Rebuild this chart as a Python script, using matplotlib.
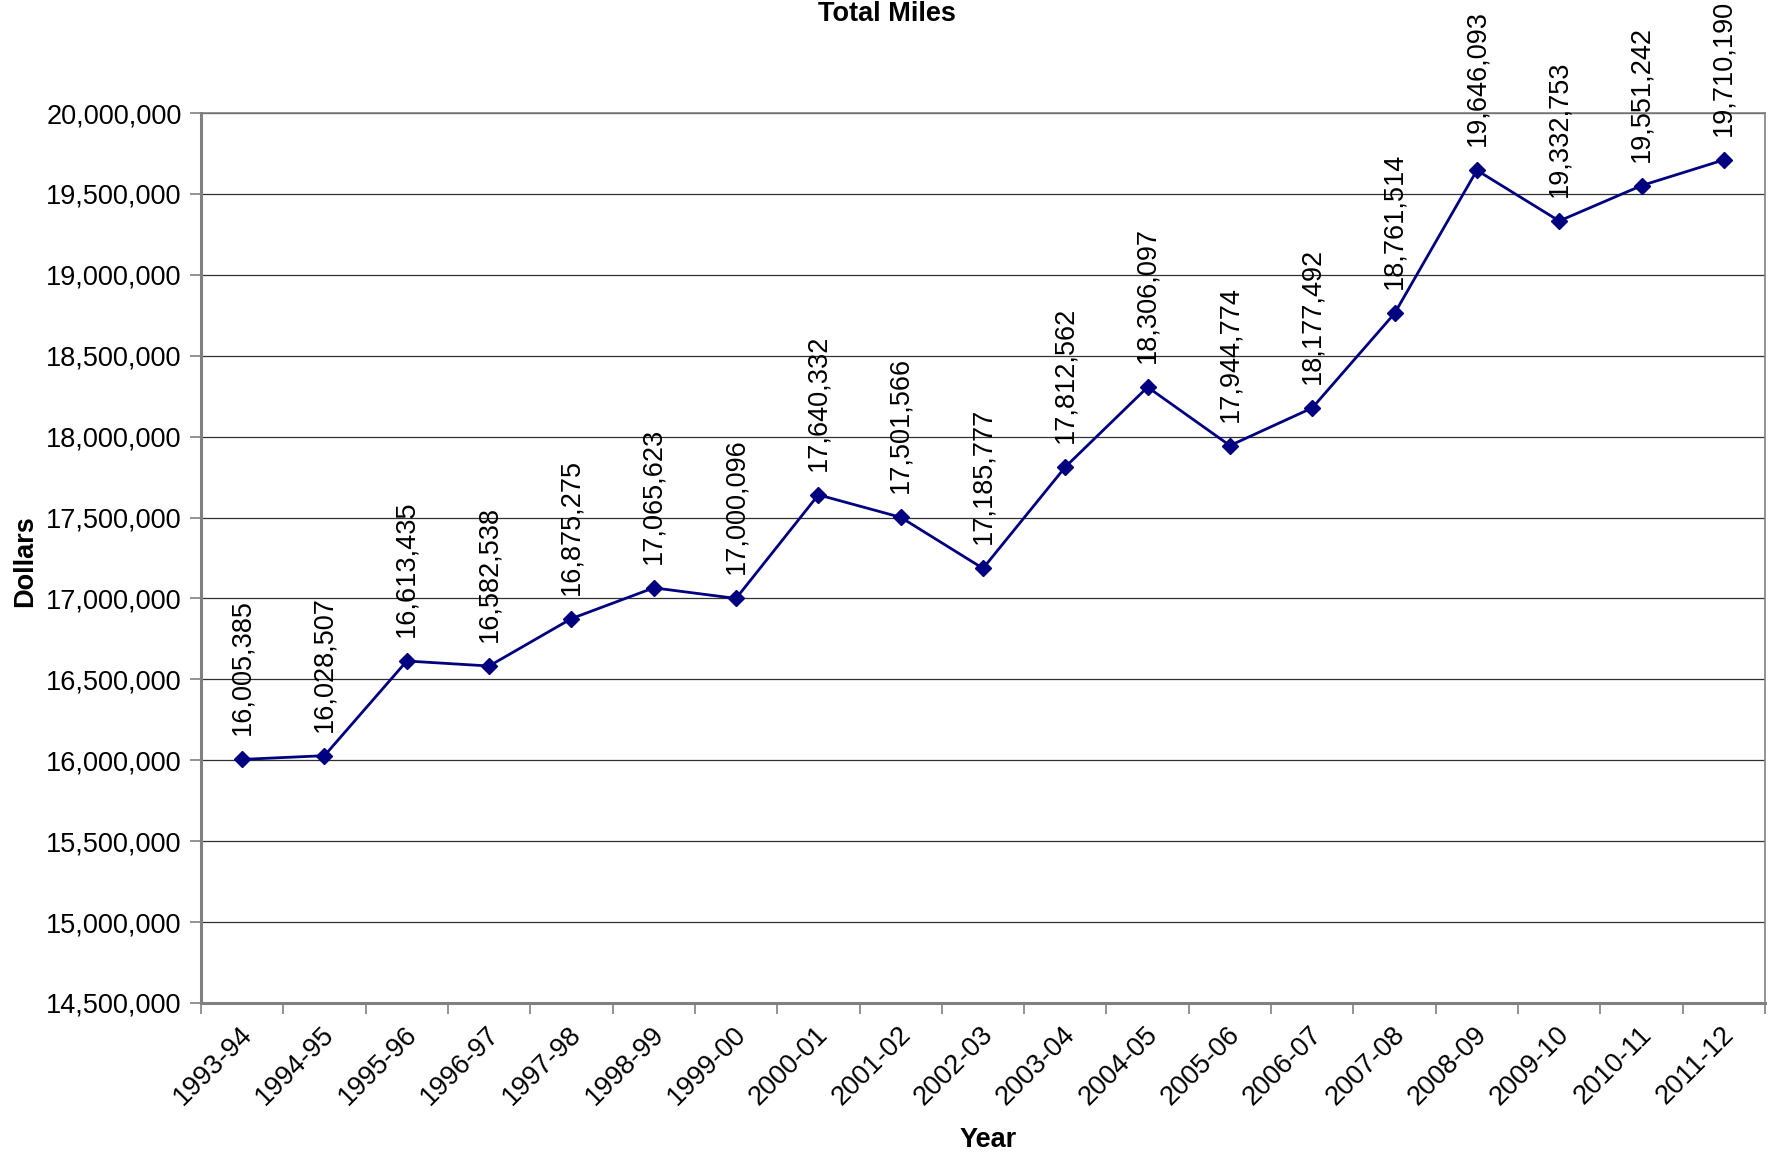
import matplotlib
matplotlib.use("Agg")
import matplotlib.pyplot as plt
import matplotlib.transforms as mtransforms
from matplotlib.ticker import FuncFormatter, MultipleLocator, FixedLocator

plt.rcParams['font.family'] = ['Liberation Sans', 'DejaVu Sans']

# data
years = ["1993-94", "1994-95", "1995-96", "1996-97", "1997-98", "1998-99",
         "1999-00", "2000-01", "2001-02", "2002-03", "2003-04", "2004-05",
         "2005-06", "2006-07", "2007-08", "2008-09", "2009-10", "2010-11",
         "2011-12"]
miles = [16005385, 16028507, 16613435, 16582538, 16875275, 17065623,
         17000096, 17640332, 17501566, 17185777, 17812562, 18306097,
         17944774, 18177492, 18761514, 19646093, 19332753, 19551242,
         19710190]

FS = 19.5

fig = plt.figure(figsize=(17.71, 11.59), dpi=100)
ax = fig.add_axes([0.1135, 0.1346, 0.8831, 0.7679])

x = list(range(len(years)))
ax.plot(x, miles, color="#000080", lw=2.0, marker="D", markersize=8.5,
        markerfacecolor="#000080", markeredgecolor="#000080", zorder=3)

for xi, v in zip(x, miles):
    ax.annotate(f"{v:,}", (xi, v), xytext=(0, 24), textcoords="offset pixels",
                rotation=90, ha="center", va="bottom", fontsize=FS,
                annotation_clip=False)

ax.set_xlim(-0.5, len(years) - 0.5)
ax.set_ylim(14500000, 20000000)
ax.yaxis.set_major_locator(MultipleLocator(500000))
ax.yaxis.set_major_formatter(FuncFormatter(lambda v, p: f"{int(v):,}"))
ax.grid(axis="y", color="#303030", lw=0.9)
ax.set_axisbelow(True)

# category labels in the middle, tick marks on the boundaries
ax.xaxis.set_major_locator(FixedLocator(x))
ax.set_xticklabels(years)
ax.xaxis.set_minor_locator(FixedLocator([i - 0.5 for i in range(len(years) + 1)]))
ax.tick_params(axis="x", which="major", length=0, pad=20, labelsize=FS)
ax.tick_params(axis="x", which="minor", length=8, width=1.2, color="#808080")
ax.tick_params(axis="y", length=8, width=1.2, color="#808080", labelsize=FS, pad=6)
shift = mtransforms.ScaledTranslation(6 / 100, 0, fig.dpi_scale_trans)
for lab in ax.get_xticklabels():
    lab.set_rotation(45)
    lab.set_ha("right")
    lab.set_va("center")
    lab.set_rotation_mode("anchor")
    lab.set_transform(lab.get_transform() + shift)

for side in ["left", "bottom"]:
    ax.spines[side].set_color("#808080")
    ax.spines[side].set_linewidth(2.2)
for side in ["top", "right"]:
    ax.spines[side].set_color("#808080")
    ax.spines[side].set_linewidth(1.2)

fig.text(0.501, 0.9995, "Total Miles", ha="center", va="top", fontsize=FS,
         fontweight="bold")
fig.text(0.014, 0.5155, "Dollars", rotation=90, ha="center", va="center",
         fontsize=FS, fontweight="bold")
fig.text(0.558, 0.016, "Year", ha="center", va="center", fontsize=FS,
         fontweight="bold")

fig.savefig("out.png", dpi=100)
